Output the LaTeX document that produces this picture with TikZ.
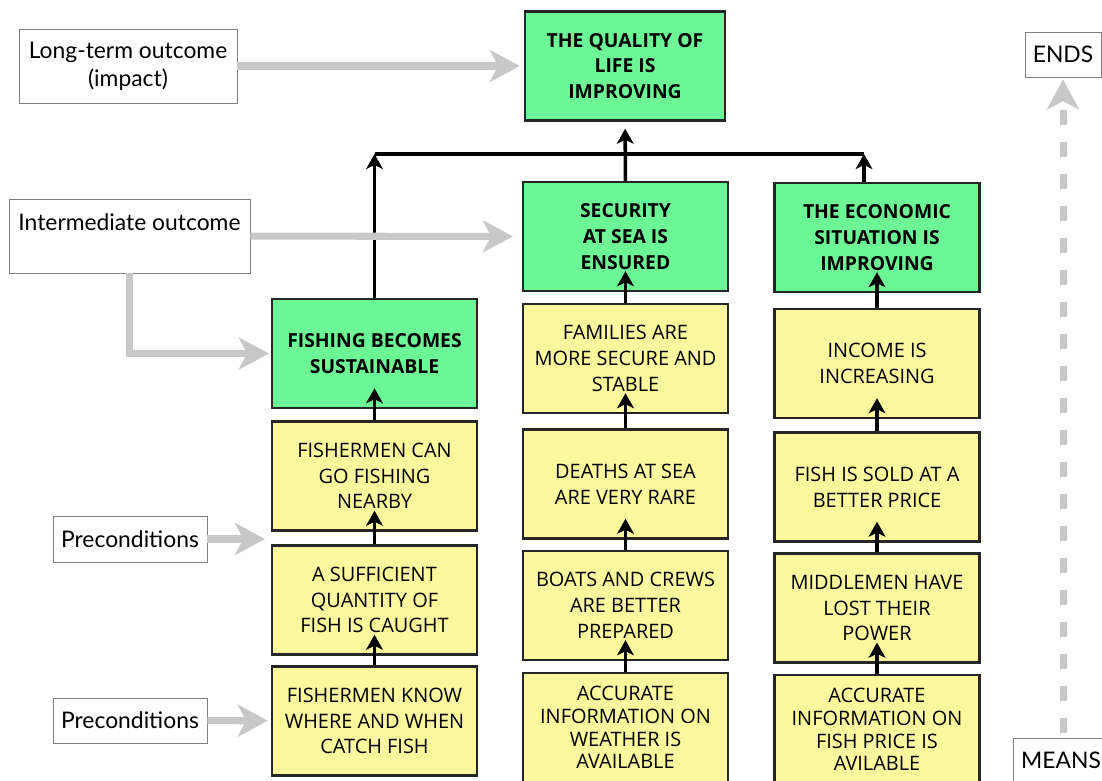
\documentclass[tikz,border=0pt]{standalone}
\usepackage{fontspec}
\setmainfont{Lato}
\newfontfamily\boxfont{Open Sans}
\usetikzlibrary{arrows.meta}
\definecolor{goalgreen}{RGB}{108,246,150}
\definecolor{stepyellow}{RGB}{251,248,158}
\definecolor{hintgray}{RGB}{200,200,200}

\begin{document}
\begin{tikzpicture}[x=0.03cm, y=-0.03cm,
    card/.style={draw=black!85, line width=2pt, minimum width=6.15cm, minimum height=3.27cm, align=center, inner sep=1pt, font=\boxfont\fontsize{17}{22}\selectfont},
    goal/.style={card, fill=goalgreen, font=\boxfont\bfseries\fontsize{16.5}{22}\selectfont},
    cond/.style={card, fill=stepyellow},
    tight/.style={font=\boxfont\fontsize{17}{19.5}\selectfont},
    tag/.style={draw=black!50, line width=0.8pt, fill=white, align=center, font=\fontsize{19.5}{24}\selectfont},
    lift/.style={-{Stealth[length=0.45cm, width=0.5cm, inset=0.12cm]}, line width=3pt, shorten >=-0.63cm},
    hint/.style={-{Stealth[length=0.9cm, width=0.96cm, inset=0.25cm]}, line width=6pt, hintgray}]
    \useasboundingbox (0,0) rectangle (1102,780);
    \clip (0,0) rectangle (1102,780);

    % outcomes
    \node[goal, minimum width=6cm] (quality) at (625,66) {THE QUALITY OF\\LIFE IS\\IMPROVING};
    \node[goal] (security) at (625.5,236.5) {SECURITY\\AT SEA IS\\ENSURED};
    \node[goal] (economy) at (877,237.5) {THE ECONOMIC\\SITUATION IS\\IMPROVING};
    \node[goal] (fishing) at (374.5,353.5) {FISHING BECOMES\\SUSTAINABLE};

    % preconditions
    \node[cond] (nearby) at (374.5,476) {FISHERMEN CAN\\GO FISHING\\NEARBY};
    \node[cond] (caught) at (374.5,600) {A SUFFICIENT\\QUANTITY OF\\FISH IS CAUGHT};
    \node[cond] (know) at (374.5,721) {FISHERMEN KNOW\\WHERE AND WHEN\\CATCH FISH};
    \node[cond] (families) at (625.5,358.5) {FAMILIES ARE\\MORE SECURE AND\\STABLE};
    \node[cond] (deaths) at (625.5,484) {DEATHS AT SEA\\ARE VERY RARE};
    \node[cond] (boats) at (625.5,605.5) {BOATS AND CREWS\\ARE BETTER\\PREPARED};
    \node[cond, tight] (weather) at (625.5,727.5) {ACCURATE\\INFORMATION ON\\WEATHER IS\\AVAILABLE};
    \node[cond] (income) at (877,363.5) {INCOME IS\\INCREASING};
    \node[cond] (sold) at (877,487) {FISH IS SOLD AT A\\BETTER PRICE};
    \node[cond] (middlemen) at (877,608) {MIDDLEMEN HAVE\\LOST THEIR\\POWER};
    \node[cond, tight] (price) at (877,729.5) {ACCURATE\\INFORMATION ON\\FISH PRICE IS\\AVILABLE};

    % level labels
    \node[tag, minimum width=6.54cm, minimum height=2.22cm] (longterm) at (128,66) {Long-term outcome\\(impact)};
    \node[tag, minimum width=7.23cm, minimum height=2.22cm] (intermediate) at (129.5,236) {Intermediate outcome\\~};
    \node[tag, minimum width=4.62cm, minimum height=1.38cm] (pre1) at (130,539) {Preconditions};
    \node[tag, minimum width=4.62cm, minimum height=1.35cm] (pre2) at (130,720.5) {Preconditions};
    \node[tag, minimum width=2.28cm, minimum height=1.35cm] (ends) at (1063,54.5) {ENDS};
    \node[tag, minimum width=2.88cm, minimum height=1.35cm] (means) at (1061,760.5) {MEANS};

    % causal links
    \coordinate (busL) at (374.5,154);
    \coordinate (busR) at (864,154);
    \draw[lift, shorten >=0pt] (fishing) -- (busL);
    \draw[line width=3pt] (busL) -- (busR);
    \draw[lift, shorten >=0pt] (economy.north -| busR) -- (busR);
    \draw[lift, shorten >=0.21cm] (security) -- (quality);
    \draw[lift] (nearby) -- (fishing);
    \draw[lift] (caught) -- (nearby);
    \draw[lift] (know) -- (caught);
    \draw[lift] (families) -- (security);
    \draw[lift] (deaths) -- (families);
    \draw[lift] (boats) -- (deaths);
    \draw[lift] (weather) -- (boats);
    \draw[lift] (income) -- (economy);
    \draw[lift] (sold) -- (income);
    \draw[lift] (middlemen) -- (sold);
    \draw[lift] (price) -- (middlemen);

    % pointers from the labels
    \coordinate (gap) at (265,539);
    \draw[hint, shorten >=0.12cm] (longterm) -- (quality);
    \draw[hint, shorten >=0.27cm] (intermediate) -- (security);
    \draw[hint, shorten >=0.06cm] (intermediate.south) |- (fishing);
    \draw[hint] (pre1) -- (gap);
    \draw[hint, shorten >=0.09cm] (pre2) -- (know);
    \draw[hint, shorten <=0.15cm, shorten >=0.06cm, dash pattern=on 0.45cm off 0.51cm] (means.north -| ends) -- (ends);
\end{tikzpicture}
\end{document}
